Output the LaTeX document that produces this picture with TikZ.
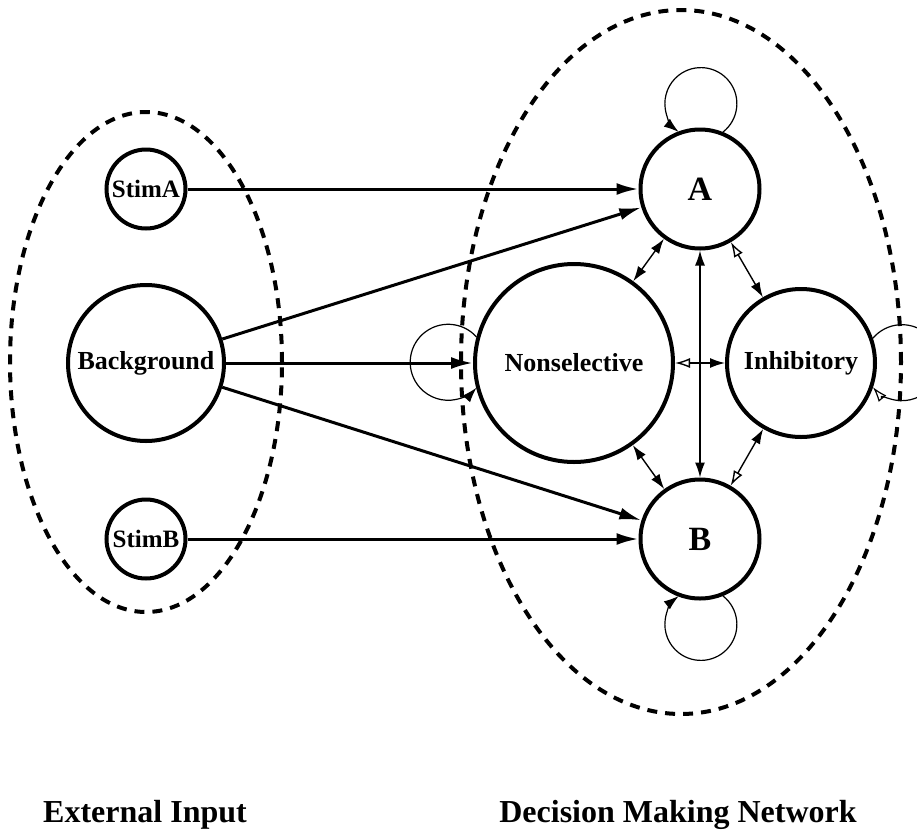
\documentclass[tikz,border=0pt]{standalone}
\usepackage{fontspec}
\setmainfont{Liberation Serif}
\usepackage{tikz}
\usetikzlibrary{arrows.meta}
\tikzset{
  exctip/.tip={Latex[length=7.5pt, width=5pt]},
  inhtip/.tip={Latex[open, length=7.5pt, width=5pt]},
  pop/.style={circle, draw, line width=2pt, inner sep=0pt, minimum size=#1,
              font=\bfseries\fontsize{13}{15}\selectfont},
  pop/.default=60pt,
  group/.style={line width=2pt, dash pattern=on 5pt off 4pt},
  input/.style={-{Latex[length=11pt, width=6pt]}, line width=1.5pt},
  excexc/.style={exctip-exctip, line width=0.7pt},
  inhexc/.style={inhtip-exctip, line width=0.7pt},
  excself/.style={-exctip, line width=0.6pt},
  inhself/.style={-inhtip, line width=0.6pt},
  caption/.style={anchor=base, font=\bfseries\fontsize{16}{19}\selectfont},
}

\begin{document}
\begin{tikzpicture}[x=0.5pt, y=-0.5pt]
  \useasboundingbox (0,0) rectangle (917,831);

  % Groups
  \draw[group] (146,362) ellipse [x radius=68pt, y radius=125pt];
  \draw[group] (681,362) ellipse [x radius=110pt, y radius=176pt];

  % External input
  \node[pop=39.5pt, font=\bfseries\fontsize{12.5}{15}\selectfont] (stima) at (146,189) {StimA};
  \node[pop=78pt] (bg) at (146,363) {Background};
  \node[pop=39.5pt, font=\bfseries\fontsize{12.5}{15}\selectfont] (stimb) at (146,539) {StimB};

  % Decision making network
  \node[pop=59.5pt, font=\bfseries\fontsize{17}{20}\selectfont] (a) at (700,189) {A};
  \node[pop=99pt] (nonsel) at (574,363) {Nonselective};
  \node[pop=74pt] (inh) at (801,363) {Inhibitory};
  \node[pop=59.5pt, font=\bfseries\fontsize{17}{20}\selectfont] (b) at (700,539) {B};

  % Input connections
  \draw[input] (stima) -- (a);
  \draw[input] (bg) -- (a);
  \draw[input] (bg) -- (nonsel);
  \draw[input] (bg) -- (b);
  \draw[input] (stimb) -- (b);

  % Recurrent connections
  \draw[excexc] (a) -- (nonsel);
  \draw[excexc] (a) -- (b);
  \draw[excexc] (nonsel) -- (b);
  \draw[inhexc] (a) -- (inh);
  \draw[inhexc] (nonsel) -- (inh);
  \draw[inhexc] (b) -- (inh);

  % Self loops
  \draw[excself] (a.68) arc[start angle=-52, end angle=232, radius=18pt];
  \draw[excself] (b.-68) arc[start angle=52, end angle=-232, radius=18pt];
  \draw[excself] (nonsel.165) arc[start angle=42, end angle=318, radius=19pt];
  \draw[inhself] (inh.19) arc[start angle=140, end angle=-140, radius=19pt];

  % Captions
  \node[caption] (extcap) at (145,822) {External Input};
  \node[caption] (netcap) at (678,822) {Decision Making Network};
\end{tikzpicture}
\end{document}
